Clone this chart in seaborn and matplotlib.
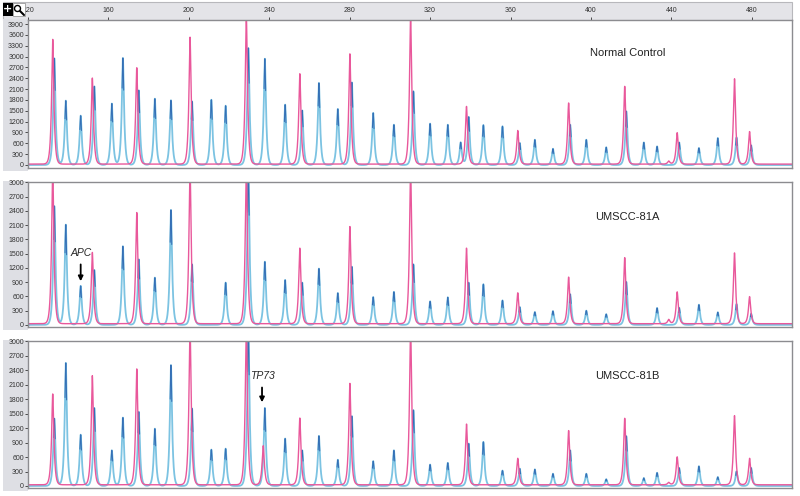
import numpy as np
import matplotlib
matplotlib.use("Agg")
import matplotlib.pyplot as plt
import seaborn as sns
from matplotlib.patches import Rectangle, Ellipse
from matplotlib.lines import Line2D

# ---- data (size in bp, height in RFU) ----
panel_names = ["Normal Control", "UMSCC-81A", "UMSCC-81B"]

pink_bp = [132.3, 152.0, 174.1, 200.6, 228.6, 237.0, 255.2, 280.1, 310.3, 338.1,
           363.6, 388.9, 416.8, 438.7, 442.9, 471.4, 478.9]
pink_normal = [3450, 2380, 2665, 3510, 4100, 0, 2500, 3050, 4100, 1595,
               930, 1690, 2150, 85, 870, 2360, 900]
pink_81a = [3300, 1500, 2340, 3300, 3300, 0, 1590, 2045, 3300, 1590,
            650, 980, 1390, 90, 670, 1490, 570]
pink_81b = [1885, 2265, 2405, 3300, 3300, 810, 1385, 2105, 3300, 1260,
            550, 1125, 1380, 50, 580, 1435, 550]

blue_bp = [133.1, 138.8, 146.2, 153.0, 161.7, 167.2, 175.1, 183.1, 191.1, 201.6,
           211.2, 218.3, 229.6, 237.8, 247.9, 256.4, 264.7, 274.1, 281.1, 291.7,
           302.0, 311.7, 320.0, 328.8, 335.2, 339.2, 346.5, 356.0, 364.6, 372.1,
           381.1, 389.7, 397.7, 407.6, 417.6, 426.3, 432.9, 443.9, 453.7, 463.1,
           472.4, 479.7]
blue_normal = [2950, 1780, 1365, 2175, 1700, 2960, 2065, 1835, 1790, 1760,
               1805, 1640, 3235, 2940, 1670, 1510, 2270, 1550, 2285, 1440,
               1115, 2040, 1145, 1115, 625, 1330, 1105, 1070, 610, 700,
               450, 1115, 700, 490, 1485, 625, 515, 625, 470, 745,
               765, 545]
blue_81a = [2500, 2110, 820, 1155, 0, 1655, 1380, 995, 2420, 1275,
            0, 890, 3300, 1330, 945, 890, 1185, 670, 1225, 585,
            695, 1275, 495, 580, 0, 890, 855, 515, 375, 270,
            290, 645, 300, 225, 905, 0, 355, 360, 425, 265,
            440, 235]
blue_81b = [1400, 2555, 1065, 1620, 740, 1420, 1540, 1190, 2510, 1610,
            755, 775, 3300, 1620, 985, 740, 1040, 545, 1450, 515,
            740, 1575, 445, 480, 0, 880, 915, 320, 360, 345,
            255, 740, 255, 140, 1035, 165, 275, 375, 410, 185,
            305, 375]

pink_heights = [pink_normal, pink_81a, pink_81b]
blue_heights = [blue_normal, blue_81a, blue_81b]

x_ticks = [120, 160, 200, 240, 280, 320, 360, 400, 440, 480]
y_ticks_top = list(range(0, 4000, 300))
y_ticks = list(range(0, 3001, 300))

PINK = "#e9589b"
CYAN = "#7cc3e2"
BLUE = "#3570b6"

sns.set_style("white")
plt.rcParams["font.family"] = ["Liberation Sans Narrow", "Liberation Sans", "DejaVu Sans"]

x = np.arange(120, 500.01, 0.02)


def peak_shape(d, b=0.62, c=0.25):
    return np.exp(-(np.sqrt(d ** 2 + c ** 2) - c) / b)


def trace(bps, heights):
    y = np.zeros_like(x)
    for p, h in zip(bps, heights):
        y += h * peak_shape(x - p)
    return y


fig = plt.figure(figsize=(8, 4.96), dpi=100)
W, H = 800, 496

boxes = [(20, 168), (182, 327), (341, 488)]
ylims = [(-83, 4011), (-45, 3008), (-42, 3010)]

# top ruler band and left grey bands
fig.patches.append(Rectangle((3 / W, 1 - 20 / H), 789 / W, 18 / H, transform=fig.transFigure,
                             facecolor="#e4e4e8", edgecolor="#b8b8bc", lw=0.8, zorder=-1))
for top, bot in boxes:
    fig.patches.append(Rectangle((3 / W, 1 - (bot + 3) / H), 25 / W, (bot - top + 4) / H,
                                 transform=fig.transFigure, facecolor="#dedfe4",
                                 edgecolor="none", zorder=-1))

axes = []
for i, (top, bot) in enumerate(boxes):
    ax = fig.add_axes([28 / W, 1 - bot / H, 764 / W, (bot - top) / H])
    axes.append(ax)
    blue = trace(blue_bp, blue_heights[i])
    pink = trace(pink_bp, pink_heights[i]) + 25

    sns.lineplot(x=x, y=blue, ax=ax, color=CYAN, linewidth=1.3, estimator=None, sort=False)
    # darker core of the blue peaks
    for p, h in zip(blue_bp, blue_heights[i]):
        if h <= 0:
            continue
        m = np.abs(x - p) < 0.4
        ax.plot(x[m], blue[m], color=BLUE, linewidth=0.75)
    sns.lineplot(x=x, y=pink, ax=ax, color=PINK, linewidth=1.0, estimator=None, sort=False)

    ax.set_xlim(120, 500)
    ax.set_ylim(*ylims[i])
    ax.set_yticks(y_ticks_top if i == 0 else y_ticks)
    ax.tick_params(axis="y", labelsize=5, length=2, width=0.6, pad=1, colors="#333333",
                   left=True)
    ax.set_xlabel("")
    ax.set_ylabel("")
    for s in ax.spines.values():
        s.set_color("#8c8c90")
        s.set_linewidth(1.0)
    ax.text(0.785, 0.78 if i == 0 else 0.76, panel_names[i], transform=ax.transAxes,
            ha="center", va="center", fontsize=8, color="#222222")
    if i == 0:
        ax.xaxis.tick_top()
        ax.set_xticks(x_ticks)
        ax.tick_params(axis="x", labelsize=5, length=2, width=0.6, pad=2, colors="#333333",
                       top=True)
    else:
        ax.set_xticks([])

axes[1].annotate("APC", xy=(146.2, 860), xytext=(146.2, 1400), ha="center", va="bottom",
                 fontsize=7.5, fontstyle="italic",
                 arrowprops=dict(arrowstyle="-|>", color="black", lw=1.3, mutation_scale=7))
axes[2].annotate("TP73", xy=(236.4, 1680), xytext=(236.4, 2170), ha="center", va="bottom",
                 fontsize=7.5, fontstyle="italic",
                 arrowprops=dict(arrowstyle="-|>", color="black", lw=1.3, mutation_scale=7))

# little toolbar icons in the corner
fig.patches.append(Rectangle((3 / W, 1 - 16 / H), 10 / W, 13 / H, transform=fig.transFigure,
                             facecolor="black", edgecolor="none", zorder=2))
fig.text(8 / W, 1 - 9.5 / H, "+", color="white", fontsize=8, fontweight="bold",
         ha="center", va="center", family="DejaVu Sans")
fig.patches.append(Rectangle((13 / W, 1 - 16 / H), 12 / W, 13 / H, transform=fig.transFigure,
                             facecolor="white", edgecolor="#888888", lw=0.5, zorder=2))
fig.patches.append(Ellipse((17.5 / W, 1 - 8.5 / H), 6 / W, 6 / H, transform=fig.transFigure,
                           facecolor="white", edgecolor="black", lw=1.0, zorder=3))
fig.lines.append(Line2D([20 / W, 24 / W], [1 - 11 / H, 1 - 15 / H], transform=fig.transFigure,
                        color="black", lw=1.5, zorder=3))

fig.savefig("out.png", dpi=100, facecolor="white")
